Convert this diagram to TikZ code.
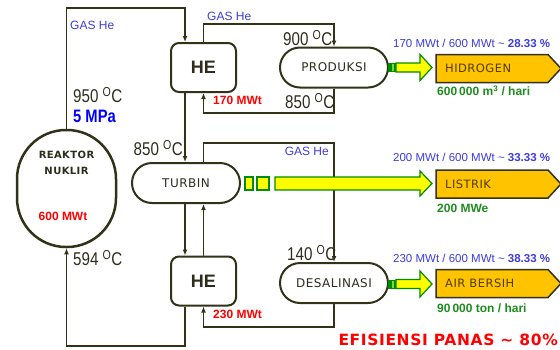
\documentclass[tikz,border=0pt]{standalone}
\usepackage{fontspec}
\setmainfont{Liberation Sans}
\newfontfamily\labelfont{DejaVu Sans}[LetterSpace=4]
\usetikzlibrary{arrows.meta,positioning}

\definecolor{lineclr}{RGB}{50,50,25}
\definecolor{txtclr}{RGB}{45,45,30}
\definecolor{gasblue}{RGB}{60,60,220}
\definecolor{pwrred}{RGB}{255,0,0}
\definecolor{prodgreen}{RGB}{30,140,30}
\definecolor{boxgold}{RGB}{255,195,0}
\definecolor{boxtxt}{RGB}{80,60,0}
\definecolor{arrowyellow}{RGB}{255,255,0}
\definecolor{arrowgreen}{RGB}{0,140,0}
\definecolor{stripegreen}{RGB}{120,220,60}

\newcommand{\narrowtxt}[1]{\scalebox{0.82}[1]{#1}}
\newcommand{\degC}{\textsuperscript{O}C}

\tikzset{
  flow/.style={draw=lineclr, line width=1.5pt, -{Latex[length=6pt,width=5pt]}},
  reaktorbox/.style={draw=lineclr, line width=2.5pt, rounded corners=49pt, minimum width=99pt, minimum height=117pt},
  hebox/.style={draw=lineclr, line width=2pt, rounded corners=8pt, minimum width=65pt, minimum height=49pt, text=txtclr, font=\fontsize{18}{18}\selectfont\bfseries},
  procbox/.style={draw=lineclr, line width=2pt, rounded corners=20pt, minimum width=108pt, minimum height=40pt, text=txtclr, font=\labelfont\fontsize{12}{12}\selectfont},
  gaslbl/.style={text=gasblue, font=\fontsize{12}{12}\selectfont, inner sep=0pt},
  templbl/.style={text=txtclr, font=\fontsize{18.5}{18.5}\selectfont, inner sep=0pt},
  pwrlbl/.style={text=pwrred, font=\fontsize{12}{12}\selectfont\bfseries, inner sep=0pt},
  ratiolbl/.style={text=gasblue, font=\fontsize{11.5}{11.5}\selectfont, inner sep=0pt, anchor=west},
  yieldlbl/.style={text=prodgreen, font=\fontsize{12}{12}\selectfont\bfseries, inner sep=0pt, anchor=west},
  outbox/.style={draw=lineclr, line width=1.5pt, fill=boxgold},
  outlbl/.style={text=boxtxt, font=\labelfont\fontsize{11.5}{11.5}\selectfont, inner sep=0pt, anchor=west},
  bigarrow/.style={draw=arrowgreen, line width=1.2pt, fill=arrowyellow},
}

\begin{document}
\begin{tikzpicture}[x=1pt,y=-1pt]
\useasboundingbox[fill=white] (0,0) rectangle (560,349);

% main units
\node[reaktorbox] (reaktor) at (66.5,188.5) {};
\node[text=txtclr, font=\labelfont\fontsize{10}{16}\selectfont\bfseries, align=center] (reaknama) at (66.5,163) {REAKTOR\\NUKLIR};
\node[pwrlbl] (reakpwr) at (63,216) {600 MWt};

\node[hebox] (he1) at (203.5,67.5) {HE};
\node[hebox] (he2) at (203.5,281) {HE};
\node[procbox] (turbin) at (186,183) {TURBIN};
\node[procbox] (produksi) at (334,67.5) {PRODUKSI};
\node[procbox] (desalinasi) at (334,283) {DESALINASI};

% corners of the loops
\coordinate (k1) at (66.5,8);
\coordinate (k2) at (185,8);
\coordinate (k3) at (203.5,24);
\coordinate (k4) at (334,24);
\coordinate (k5) at (334,113);
\coordinate (k6) at (203.5,143);
\coordinate (k7) at (334,143);
\coordinate (k8) at (185,346);
\coordinate (k9) at (66.5,346);
\coordinate (k10) at (334,327);

% primary loop
\draw[flow] (reaktor.north) -- (k1) -- (k2) -- (k2 |- he1.north);
\draw[flow] (k2 |- he1.south) -- (k2 |- turbin.north);
\draw[flow] (k2 |- turbin.south) -- (k2 |- he2.north);
\draw[flow] (he2.north) -- (he2.north |- turbin.south);
\draw[flow] (k8 |- he2.south) -- (k8) -- (k9) -- (reaktor.south);

% hydrogen loop
\draw[flow] (he1.north) -- (k3) -- (k4) -- (produksi.north);
\draw[flow] (produksi.south) -- (k5) -- (k5 -| he1.south) -- (he1.south);

% desalination loop
\draw[flow] (k6 |- turbin.north) -- (k6) -- (k7) -- (desalinasi.north);
\draw[flow] (desalinasi.south) -- (k10) -- (k10 -| he2.south) -- (he2.south);

% labels on the loops
\node[gaslbl, anchor=west] (gas1) at (70,25) {GAS He};
\node[gaslbl, anchor=west] (gas2) at (207,16) {GAS He};
\node[gaslbl, anchor=east] (gas3) at (329,151) {GAS He};
\node[templbl, anchor=west] (t950) at (73,95) {\narrowtxt{950 \degC}};
\node[text=blue, font=\fontsize{18}{18}\selectfont\bfseries, inner sep=0pt, anchor=west] (tekanan) at (73,116) {\narrowtxt{5 MPa}};
\node[templbl, anchor=east] (t850a) at (183,148) {\narrowtxt{850 \degC}};
\node[templbl, anchor=west] (t900) at (283,38) {\narrowtxt{900 \degC}};
\node[templbl, anchor=west] (t850b) at (285,101) {\narrowtxt{850 \degC}};
\node[templbl, anchor=west] (t140) at (287,253) {\narrowtxt{140 \degC}};
\node[templbl, anchor=west] (t594) at (73,258) {\narrowtxt{594 \degC}};
\node[pwrlbl, anchor=west] (p170) at (213,100) {170 MWt};
\node[pwrlbl, anchor=west] (p230) at (213,314) {230 MWt};

% heat to products
\foreach \c in {67.5,284} {
  \fill[arrowgreen] (388,\c-4.5) rectangle (396,\c+4.5);
  \fill[stripegreen] (391.5,\c-3.5) rectangle (393.5,\c+3.5);
  \draw[bigarrow] (396,\c-4.5) -- (420,\c-4.5) -- (420,\c-13) -- (432,\c) -- (420,\c+13) -- (420,\c+4.5) -- (396,\c+4.5) -- cycle;
}
\draw[arrowgreen, line width=1.2pt, fill=arrowyellow] (245,177) rectangle (253,190);
\draw[arrowgreen, line width=1.2pt, fill=arrowyellow] (257,177) rectangle (269,190);
\draw[bigarrow] (275,177) -- (420,177) -- (420,171) -- (432,183.5) -- (420,196) -- (420,190) -- (275,190) -- cycle;

% products
\foreach \y/\nm/\txt in {68.5/hidrogen/HIDROGEN, 184/listrik/LISTRIK, 283.5/air/AIR BERSIH} {
  \draw[outbox] (436,\y-14) -- (548,\y-14) -- (561,\y) -- (548,\y+14) -- (436,\y+14) -- cycle;
  \node[outlbl] (\nm) at (445,\y) {\txt};
}

\node[ratiolbl] (r1) at (393,43) {170 MWt / 600 MWt \textasciitilde{} \textbf{28.33 \%}};
\node[ratiolbl] (r2) at (393,157) {200 MWt / 600 MWt \textasciitilde{} \textbf{33.33 \%}};
\node[ratiolbl] (r3) at (393,258) {230 MWt / 600 MWt \textasciitilde{} \textbf{38.33 \%}};
\node[yieldlbl] (y1) at (437,91) {600\,000 m\textsuperscript{3} / hari};
\node[yieldlbl] (y2) at (437,208) {200 MWe};
\node[yieldlbl] (y3) at (437,308) {90\,000 ton / hari};

\node[text=pwrred, font=\labelfont\fontsize{15.5}{15.5}\selectfont\bfseries, inner sep=0pt, anchor=east] (efisiensi) at (558,340) {EFISIENSI PANAS \textasciitilde{} 80\%};
\end{tikzpicture}
\end{document}
